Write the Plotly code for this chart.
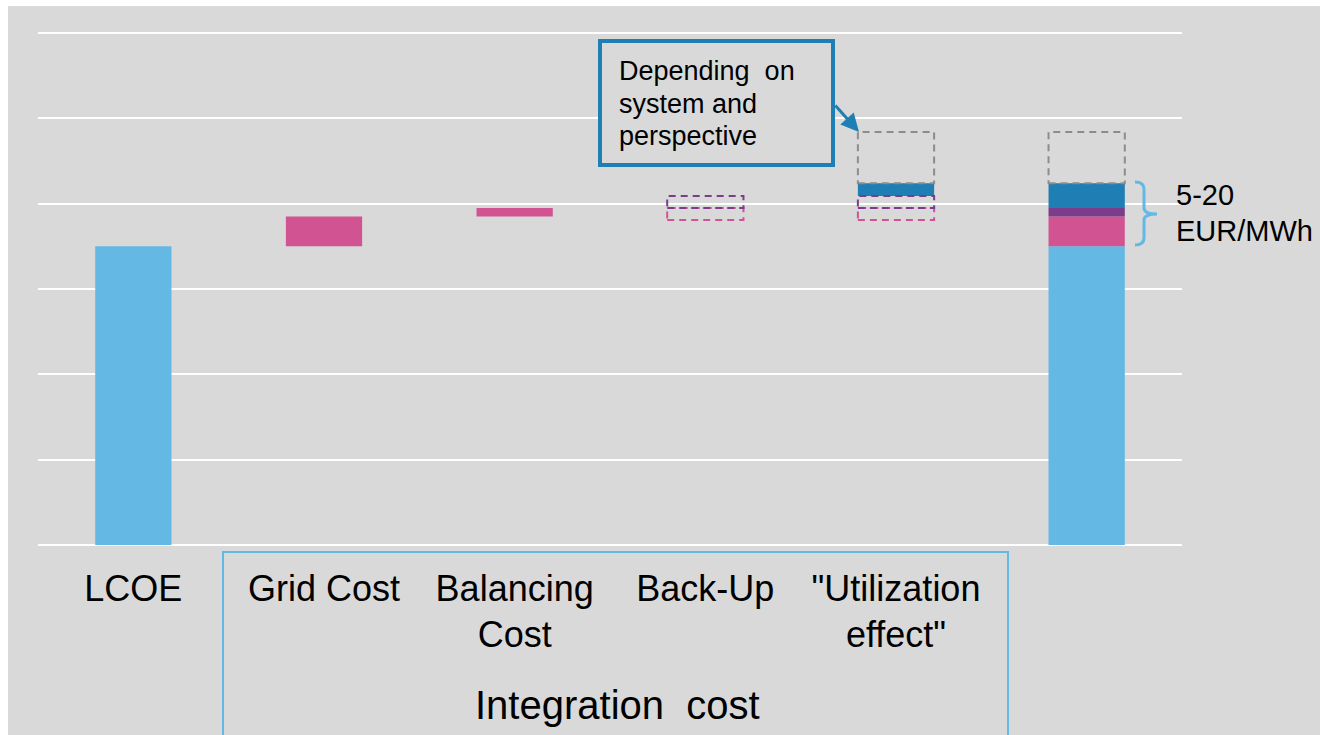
import plotly.graph_objects as go

# ---- data (EUR/MWh, cumulative system cost build-up) ----
categories = ["LCOE", "Grid Cost", "Balancing<br>Cost", "Back-Up",
              "\"Utilization<br>effect\"", ""]
lcoe = 35.0
grid_cost = 3.5
balancing_cost = 1.0
backup_cost = 1.4            # dashed band, upper estimate
backup_alt_base = 38.1       # dashed band, lower placement
utilization_cost = 1.5
utilization_upside = 6.0     # dashed grey range above
y_ticks = [0, 10, 20, 30, 40, 50, 60]
callout_lines = ["Depending\u00a0 on", "system and", "perspective"]
brace_lines = ["5-20", "EUR/MWh"]

# ---- styling ----
W, H = 1321, 735
BG = "#d9d9d9"
LIGHT_BLUE = "#63b8e4"
PINK = "#d25392"
PURPLE = "#7b3c8b"
DARK_BLUE = "#1f7eb4"
GREY = "#8c8c8c"
FONT = "Liberation Sans, Arial, sans-serif"
BAR_W = 0.40
PAD = 0.3                    # value-axis padding so edge gridlines stay visible
PX_PER_UNIT = (545 - 33) / (y_ticks[-1] - y_ticks[0])


def px(x):
    return x / W


def py(y):
    return 1 - y / H


# cumulative levels
lvl_grid = lcoe + grid_cost
lvl_bal = lvl_grid + balancing_cost
lvl_backup = lvl_bal + backup_cost
lvl_util = lvl_backup + utilization_cost
lvl_top = lvl_util + utilization_upside

xi = list(range(len(categories)))
i_lcoe, i_grid, i_bal, i_backup, i_util, i_total = xi

fig = go.Figure()


def add_bar(xs, base, height, color):
    fig.add_trace(go.Bar(
        x=xs, y=[height] * len(xs), base=[base] * len(xs), width=BAR_W,
        marker=dict(color=color, line=dict(width=0)),
        showlegend=False, hoverinfo="skip"))


add_bar([i_lcoe, i_total], 0, lcoe, LIGHT_BLUE)
add_bar([i_grid, i_total], lcoe, grid_cost, PINK)
add_bar([i_bal], lvl_grid, balancing_cost, PINK)
add_bar([i_total], lvl_grid, balancing_cost, PURPLE)
add_bar([i_util], lvl_backup, utilization_cost, DARK_BLUE)
add_bar([i_total], lvl_bal, backup_cost + utilization_cost, DARK_BLUE)

shapes = []


def dashed_box(xc, y0, y1, color):
    shapes.append(dict(
        type="rect", xref="x", yref="y",
        x0=xc - BAR_W / 2, x1=xc + BAR_W / 2, y0=y0, y1=y1,
        line=dict(color=color, width=2, dash="7px,5px"),
        fillcolor="rgba(0,0,0,0)", layer="above"))


for col in (i_backup, i_util):
    dashed_box(col, backup_alt_base, lvl_bal, PINK)
    dashed_box(col, lvl_bal, lvl_backup, PURPLE)
for col in (i_util, i_total):
    dashed_box(col, lvl_util, lvl_top, GREY)

# white page border strips
shapes += [
    dict(type="rect", xref="paper", yref="paper", x0=0, x1=1, y0=py(6), y1=1,
         fillcolor="white", line=dict(width=0), layer="above"),
    dict(type="rect", xref="paper", yref="paper", x0=0, x1=px(8), y0=0, y1=1,
         fillcolor="white", line=dict(width=0), layer="above"),
    dict(type="rect", xref="paper", yref="paper", x0=px(1320), x1=1, y0=0, y1=1,
         fillcolor="white", line=dict(width=0), layer="above"),
]

# frame around the integration cost categories
shapes.append(dict(type="rect", xref="paper", yref="paper",
                   x0=px(223), x1=px(1008), y0=py(760), y1=py(552),
                   line=dict(color=LIGHT_BLUE, width=2),
                   fillcolor="rgba(0,0,0,0)"))

# callout box
shapes.append(dict(type="rect", xref="paper", yref="paper",
                   x0=px(600), x1=px(833), y0=py(165), y1=py(41),
                   line=dict(color=DARK_BLUE, width=4),
                   fillcolor=BG))

# curly brace next to the total column
bx0, bx1, bxm = 1135, 1144, 1157
by0, bym, by1 = 182, 214, 245


def P(x, y):
    return f"{px(x):.6f},{py(y):.6f}"


brace = (f"M {P(bx0, by0)} Q {P(bx1, by0)} {P(bx1, by0 + 7)} "
         f"L {P(bx1, bym - 6)} Q {P(bx1, bym)} {P(bxm, bym)} "
         f"Q {P(bx1, bym)} {P(bx1, bym + 6)} "
         f"L {P(bx1, by1 - 7)} Q {P(bx1, by1)} {P(bx0, by1)}")
shapes.append(dict(type="path", xref="paper", yref="paper", path=brace,
                   line=dict(color=LIGHT_BLUE, width=3)))

annotations = [
    dict(text="Integration\u00a0 cost", xref="paper", yref="paper",
         x=px(617), y=py(705), xanchor="center", yanchor="middle",
         showarrow=False, font=dict(size=40, color="black", family=FONT)),
    dict(text="", xref="paper", yref="paper", x=px(859), y=py(132),
         ax=-25, ay=-28, showarrow=True, arrowhead=2, arrowsize=1.2,
         arrowwidth=3, arrowcolor=DARK_BLUE),
]
for k, line in enumerate(callout_lines):
    annotations.append(dict(
        text=line, xref="paper", yref="paper", x=px(617), y=py(71 + 32.5 * k),
        xanchor="left", yanchor="middle", showarrow=False,
        font=dict(size=27, color="black", family=FONT)))
for k, line in enumerate(brace_lines):
    annotations.append(dict(
        text=line, xref="paper", yref="paper", x=px(1174), y=py(195 + 36 * k),
        xanchor="left", yanchor="middle", showarrow=False,
        font=dict(size=29, color="black", family=FONT)))

fig.update_layout(
    width=W, height=H,
    margin=dict(l=0, r=0, t=0, b=0),
    paper_bgcolor=BG, plot_bgcolor=BG,
    barmode="overlay",
    shapes=shapes, annotations=annotations,
    xaxis=dict(domain=[px(38), px(1182)], range=[-0.5, len(categories) - 0.5],
               tickvals=xi, ticktext=categories, ticks="",
               tickfont=dict(size=36, color="black", family=FONT),
               ticklabelstandoff=16,
               showgrid=False, zeroline=False, showline=False, fixedrange=True),
    yaxis=dict(domain=[py(545 + PAD * PX_PER_UNIT), py(33 - PAD * PX_PER_UNIT)],
               range=[y_ticks[0] - PAD, y_ticks[-1] + PAD],
               tickvals=y_ticks, showticklabels=False, ticks="",
               showgrid=True, gridcolor="white", gridwidth=1.5,
               zeroline=False, showline=False, fixedrange=True),
    font=dict(family=FONT),
)

fig.write_html("out.html")
